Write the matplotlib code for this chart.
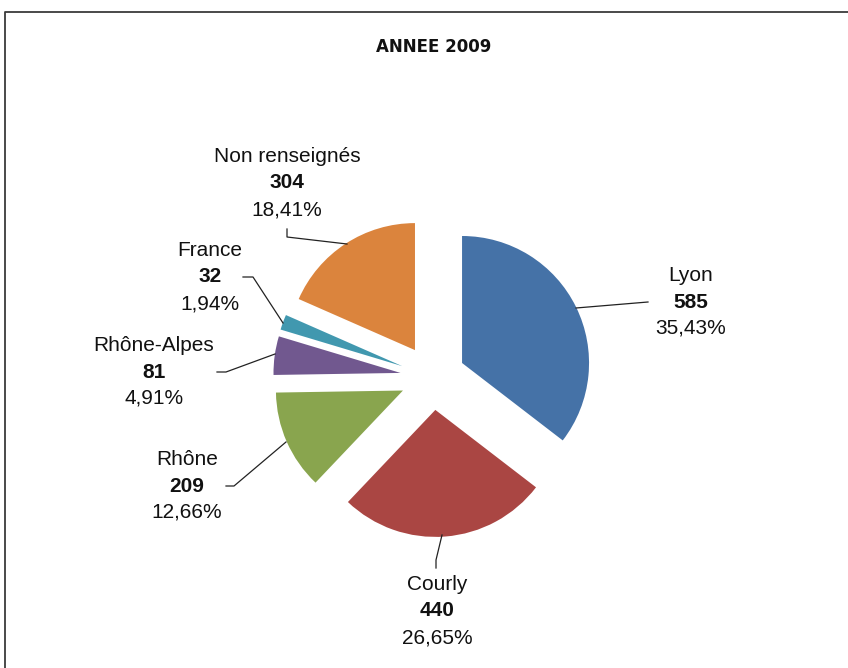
import matplotlib
matplotlib.use("Agg")
import matplotlib.pyplot as plt
from matplotlib.lines import Line2D

# ── Data ─────────────────────────────────────────────────────────────────────
categories = ["Lyon", "Courly", "Rhône", "Rhône-Alpes", "France", "Non renseignés"]
counts = [585, 440, 209, 81, 32, 304]
percents = ["35,43%", "26,65%", "12,66%", "4,91%", "1,94%", "18,41%"]
colors = ["#4572A7", "#AA4643", "#89A54E", "#71588F", "#4198AF", "#DB843D"]

# ── Layout (figure pixels, y measured from top) ─────────────────────────────
W, H = 848, 668
CENTER = (432.8, 377.4)
RADIUS = 127
OFFSET = 32.6   # explode distance in px (pie uses absolute units here)

# label block centre (x, y of middle line) and leader line points
label_pos = {
    "Lyon": (691, 302),
    "Courly": (437, 611),
    "Rhône": (187, 486),
    "Rhône-Alpes": (154, 372),
    "France": (210, 277),
    "Non renseignés": (287, 183),
}
leaders = {
    "Lyon": [(648, 302), (576, 308)],
    "Courly": [(436, 568), (436, 560), (442, 535)],
    "Rhône": [(226, 486), (234, 486), (286, 442)],
    "Rhône-Alpes": [(217, 372), (226, 372), (275, 354)],
    "France": [(243, 277), (253, 277), (283, 323)],
    "Non renseignés": [(287, 229), (287, 237), (347, 244)],
}
LINE_GAP = 26.5


def fy(y):
    return H - y


fig = plt.figure(figsize=(W / 100, H / 100), dpi=100)
ax = fig.add_axes([0, 0, 1, 1])

ax.pie(counts, colors=colors, startangle=90, counterclock=False,
       radius=RADIUS, center=(CENTER[0], fy(CENTER[1])),
       explode=[OFFSET] * len(counts),
       wedgeprops=dict(linewidth=0))

ax.set_xlim(0, W)
ax.set_ylim(0, H)
ax.set_aspect("equal")
ax.axis("off")

# outer frame
ax.add_line(Line2D([5, 5, W], [0, fy(12), fy(12)], color="#3a3a3a", lw=1.3))

ax.text(434, fy(47), "ANNEE 2009", ha="center", va="center",
        fontsize=12, fontweight="bold", family="DejaVu Sans", color="#111111")

for name, n, pct in zip(categories, counts, percents):
    x, y = label_pos[name]
    kw = dict(ha="center", va="center", fontsize=15, family="Liberation Sans",
              color="#111111")
    ax.text(x, fy(y - LINE_GAP), name, **kw)
    ax.text(x, fy(y), str(n), fontweight="bold", **kw)
    ax.text(x, fy(y + LINE_GAP), pct, **kw)
    pts = leaders[name]
    ax.add_line(Line2D([p[0] for p in pts], [fy(p[1]) for p in pts],
                       color="#222222", lw=0.9))

fig.savefig("out.png", dpi=100)
